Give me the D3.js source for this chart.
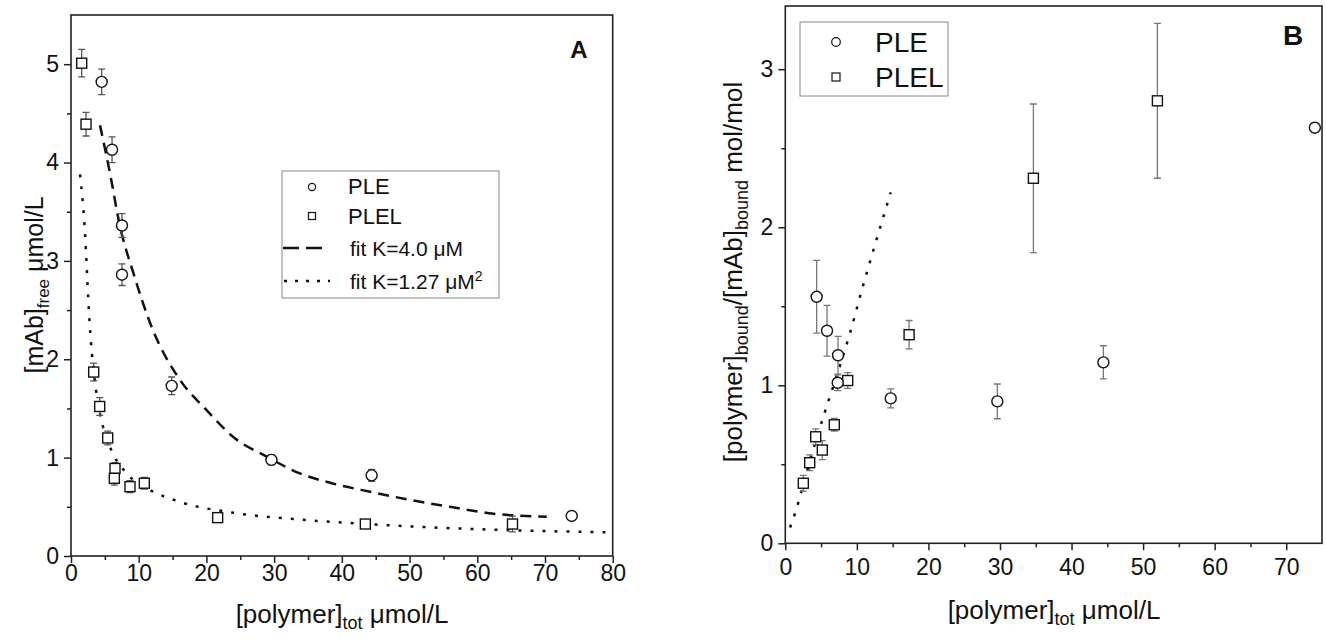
<!DOCTYPE html>
<html>
<head>
<meta charset="utf-8">
<script src="https://cdn.jsdelivr.net/npm/d3@7/dist/d3.min.js"></script>
<style>
  body { margin: 0; background: #fff; }
  svg text { font-family: "Liberation Sans", Arial, sans-serif; fill: #111; }
</style>
</head>
<body>
<svg id="chart" width="1326" height="641"></svg>
<script>
// Panel A - free mAb vs total polymer
var pleA_x = [4.53, 6.06, 7.53, 7.53, 14.87, 29.6, 44.4, 73.95]
var pleA_y = [4.82, 4.13, 3.36, 2.86, 1.73, 0.977, 0.82, 0.407]
var pleA_err = [0.13, 0.13, 0.12, 0.11, 0.09, 0.05, 0.06, 0.03]

var plelA_x = [1.58, 2.22, 3.35, 4.24, 5.42, 6.5, 6.4, 8.71, 10.83, 21.66, 43.47, 65.2]
var plelA_y = [5.01, 4.39, 1.87, 1.52, 1.20, 0.89, 0.79, 0.705, 0.74, 0.39, 0.325, 0.325]
var plelA_err = [0.14, 0.12, 0.09, 0.09, 0.07, 0.06, 0.07, 0.06, 0.06, 0.04, 0.02, 0.08]

// fit curves
var fitK4_x = [4.28, 5.76, 7.24, 9.2, 11.9, 16.1, 20.0, 23.97, 28.9, 33.8, 38.5, 44.4, 50.07, 56.0, 62.4, 70.26]
var fitK4_y = [4.38, 3.89, 3.35, 2.88, 2.33, 1.79, 1.485, 1.21, 1.01, 0.84, 0.74, 0.65, 0.57, 0.50, 0.43, 0.40]

var fitK127_x = [1.33, 2.07, 2.56, 2.75, 3.45, 4.28, 5.76, 8.22, 11.18, 16.1, 23.97, 33.8, 43.7, 53.5, 63.4, 79.85]
var fitK127_y = [3.88, 3.28, 2.60, 2.37, 1.82, 1.45, 1.11, 0.84, 0.69, 0.55, 0.44, 0.37, 0.325, 0.29, 0.265, 0.24]

// Panel B - bound ratio vs total polymer
var pleB_x = [4.38, 5.83, 7.37, 7.32, 14.73, 29.63, 44.45, 74.0]
var pleB_y = [1.56, 1.345, 1.19, 1.016, 0.917, 0.898, 1.145, 2.63]
var pleB_err = [0.23, 0.16, 0.12, 0.05, 0.06, 0.11, 0.105, 0.03]

var plelB_x = [2.52, 3.41, 4.25, 5.17, 6.85, 8.72, 17.3, 34.67, 52.0]
var plelB_y = [0.38, 0.51, 0.674, 0.59, 0.75, 1.03, 1.32, 2.31, 2.80]
var plelB_err = [0.05, 0.05, 0.05, 0.06, 0.04, 0.05, 0.09, 0.47, 0.49]

var lineB_x = [0.66, 1.36, 2.99, 5.31, 7.18, 9.04, 10.68, 13.0, 14.73]
var lineB_y = [0.10, 0.19, 0.45, 0.80, 1.06, 1.33, 1.60, 1.96, 2.22]

// ticks
var xTicksA = [0, 10, 20, 30, 40, 50, 60, 70, 80]
var xMinorA = [5, 15, 25, 35, 45, 55, 65, 75]
var yTicksA = [0, 1, 2, 3, 4, 5]
var yMinorA = [0.5, 1.5, 2.5, 3.5, 4.5]
var xTicksB = [0, 10, 20, 30, 40, 50, 60, 70]
var xMinorB = [5, 15, 25, 35, 45, 55, 65]
var yTicksB = [0, 1, 2, 3]
var yMinorB = [0.5, 1.5, 2.5]

var svg = d3.select("#chart")

svg.append("rect")
  .attr("width", 1326)
  .attr("height", 641)
  .attr("fill", "white")

// Add scales
var xA = d3.scaleLinear().domain([0, 80]).range([71, 612.7])
var yA = d3.scaleLinear().domain([0, 5.5]).range([556, 15])
var xB = d3.scaleLinear().domain([0, 75]).range([785.3, 1322])
var yB = d3.scaleLinear().domain([0, 3.4]).range([543.3, 6])

var zip = (xs, ys, es) => xs.map((x, i) => ({ x: x, y: ys[i], e: es ? es[i] : 0 }))

function drawAxes(x, y, xt, xm, yt, ym, xPad) {
  var x0 = x.range()[0], x1 = x.range()[1]
  var y0 = y.range()[0], y1 = y.range()[1]

  // minor ticks
  svg.append("g")
    .attr("transform", `translate(0,${y0})`)
    .call(d3.axisBottom(x).tickValues(xm).tickSize(4).tickFormat("").tickSizeOuter(0))
    .call(g => g.select(".domain").remove())
  svg.append("g")
    .attr("transform", `translate(${x0},0)`)
    .call(d3.axisLeft(y).tickValues(ym).tickSize(4).tickFormat("").tickSizeOuter(0))
    .call(g => g.select(".domain").remove())

  // major ticks + labels
  svg.append("g")
    .attr("class", "x-axis")
    .attr("transform", `translate(0,${y0})`)
    .attr("font-size", 23)
    .call(d3.axisBottom(x).tickValues(xt).tickSize(7).tickPadding(xPad).tickSizeOuter(0).tickFormat(d => d))
    .call(g => g.select(".domain").remove())
    .selectAll("text")
    .style("font-size", "23px")
  svg.append("g")
    .attr("class", "y-axis")
    .attr("transform", `translate(${x0},0)`)
    .call(d3.axisLeft(y).tickValues(yt).tickSize(7).tickPadding(5).tickSizeOuter(0).tickFormat(d => d))
    .call(g => g.select(".domain").remove())
    .selectAll("text")
    .style("font-size", "23px")

  svg.selectAll(".tick line")
    .attr("stroke", "#222")
    .attr("stroke-width", 1.5)

  // frame
  svg.append("rect")
    .attr("x", x0)
    .attr("y", y1)
    .attr("width", x1 - x0)
    .attr("height", y0 - y1)
    .attr("fill", "none")
    .attr("stroke", "#222")
    .attr("stroke-width", 1.6)
}

function drawCurve(x, y, pts, dash) {
  var line = d3.line()
    .x(d => x(d.x))
    .y(d => y(d.y))
    .curve(d3.curveMonotoneX)
  svg.append("path")
    .datum(pts)
    .attr("d", line)
    .attr("fill", "none")
    .attr("stroke", "#111")
    .attr("stroke-width", 2.5)
    .attr("stroke-dasharray", dash)
}

function drawPoints(x, y, pts, shape, errColor) {
  var g = svg.append("g")
  g.selectAll(".err")
    .data(pts)
    .enter()
    .append("path")
    .attr("d", d => {
      var cx = x(d.x), t = y(d.y + d.e), b = y(d.y - d.e)
      return `M${cx},${t}V${b}M${cx - 3.5},${t}H${cx + 3.5}M${cx - 3.5},${b}H${cx + 3.5}`
    })
    .attr("fill", "none")
    .attr("stroke", errColor)
    .attr("stroke-width", 1.3)

  if (shape == "circle") {
    g.selectAll(".dot")
      .data(pts)
      .enter()
      .append("circle")
      .attr("cx", d => x(d.x))
      .attr("cy", d => y(d.y))
      .attr("r", 5.5)
      .attr("fill", "white")
      .attr("stroke", "#111")
      .attr("stroke-width", 1.4)
  } else {
    g.selectAll(".sq")
      .data(pts)
      .enter()
      .append("rect")
      .attr("x", d => x(d.x) - 5)
      .attr("y", d => y(d.y) - 5)
      .attr("width", 10)
      .attr("height", 10)
      .attr("fill", "white")
      .attr("stroke", "#111")
      .attr("stroke-width", 1.4)
  }
}

// ---------- Panel A ----------
drawAxes(xA, yA, xTicksA, xMinorA, yTicksA, yMinorA, 2)
drawCurve(xA, yA, zip(fitK4_x, fitK4_y), "11,7")
drawCurve(xA, yA, zip(fitK127_x, fitK127_y), "3,9")
drawPoints(xA, yA, zip(plelA_x, plelA_y, plelA_err), "square", "#555")
drawPoints(xA, yA, zip(pleA_x, pleA_y, pleA_err), "circle", "#555")

svg.append("text")
  .attr("x", 579)
  .attr("y", 58)
  .attr("text-anchor", "middle")
  .style("font-size", "24px")
  .style("font-weight", "bold")
  .text("A")

// Legend A
var legA = svg.append("g")
legA.append("rect")
  .attr("x", 282).attr("y", 171).attr("width", 217).attr("height", 127)
  .attr("fill", "white").attr("stroke", "#888").attr("stroke-width", 1)
legA.append("circle")
  .attr("cx", 312).attr("cy", 187).attr("r", 3.6)
  .attr("fill", "white").attr("stroke", "#111").attr("stroke-width", 1.2)
legA.append("rect")
  .attr("x", 308.5).attr("y", 212.5).attr("width", 7).attr("height", 7)
  .attr("fill", "white").attr("stroke", "#111").attr("stroke-width", 1.2)
legA.append("line")
  .attr("x1", 283).attr("x2", 328).attr("y1", 248).attr("y2", 248)
  .attr("stroke", "#111").attr("stroke-width", 2.5).attr("stroke-dasharray", "16,7")
legA.append("line")
  .attr("x1", 284).attr("x2", 330).attr("y1", 281).attr("y2", 281)
  .attr("stroke", "#111").attr("stroke-width", 2.5).attr("stroke-dasharray", "3,8")
legA.append("text").attr("x", 348).attr("y", 194).style("font-size", "22px").text("PLE")
legA.append("text").attr("x", 348).attr("y", 224).style("font-size", "22px").text("PLEL")
legA.append("text").attr("x", 350).attr("y", 256).style("font-size", "21px").text("fit K=4.0 μM")
var fit2 = legA.append("text").attr("x", 350).attr("y", 289).style("font-size", "21px")
fit2.append("tspan").text("fit K=1.27 μM")
fit2.append("tspan").attr("dy", -8).style("font-size", "14px").text("2")

// Axis titles A
var xtA = svg.append("text")
  .attr("x", 342)
  .attr("y", 623)
  .attr("text-anchor", "middle")
  .style("font-size", "26px")
xtA.append("tspan").text("[polymer]")
xtA.append("tspan").attr("dy", 6).style("font-size", "18px").text("tot")
xtA.append("tspan").attr("dy", -6).text(" μmol/L")

var ytA = svg.append("text")
  .attr("transform", "translate(43,285) rotate(-90)")
  .attr("text-anchor", "middle")
  .style("font-size", "25px")
ytA.append("tspan").text("[mAb]")
ytA.append("tspan").attr("dy", 6).style("font-size", "17px").text("free")
ytA.append("tspan").attr("dy", -6).text(" μmol/L")

// ---------- Panel B ----------
drawAxes(xB, yB, xTicksB, xMinorB, yTicksB, yMinorB, 8)
drawCurve(xB, yB, zip(lineB_x, lineB_y), "3,9")
drawPoints(xB, yB, zip(plelB_x, plelB_y, plelB_err), "square", "#777")
drawPoints(xB, yB, zip(pleB_x, pleB_y, pleB_err), "circle", "#777")

svg.append("text")
  .attr("x", 1293)
  .attr("y", 45)
  .attr("text-anchor", "middle")
  .style("font-size", "28px")
  .style("font-weight", "bold")
  .text("B")

// Legend B
var legB = svg.append("g")
legB.append("rect")
  .attr("x", 800).attr("y", 22).attr("width", 148).attr("height", 74)
  .attr("fill", "white").attr("stroke", "#888").attr("stroke-width", 1)
legB.append("circle")
  .attr("cx", 836).attr("cy", 42).attr("r", 4.3)
  .attr("fill", "white").attr("stroke", "#111").attr("stroke-width", 1.2)
legB.append("rect")
  .attr("x", 832).attr("y", 73).attr("width", 8).attr("height", 8)
  .attr("fill", "white").attr("stroke", "#111").attr("stroke-width", 1.2)
legB.append("text").attr("x", 875).attr("y", 52).style("font-size", "28px").text("PLE")
legB.append("text").attr("x", 875).attr("y", 87).style("font-size", "28px").text("PLEL")

// Axis titles B
var xtB = svg.append("text")
  .attr("x", 1054)
  .attr("y", 619)
  .attr("text-anchor", "middle")
  .style("font-size", "26px")
xtB.append("tspan").text("[polymer]")
xtB.append("tspan").attr("dy", 6).style("font-size", "18px").text("tot")
xtB.append("tspan").attr("dy", -6).text(" μmol/L")

var ytB = svg.append("text")
  .attr("transform", "translate(742,272) rotate(-90)")
  .attr("text-anchor", "middle")
  .style("font-size", "26px")
ytB.append("tspan").text("[polymer]")
ytB.append("tspan").attr("dy", 6).style("font-size", "18px").text("bound")
ytB.append("tspan").attr("dy", -6).text("/[mAb]")
ytB.append("tspan").attr("dy", 6).style("font-size", "18px").text("bound")
ytB.append("tspan").attr("dy", -6).text(" mol/mol")
</script>
</body>
</html>
